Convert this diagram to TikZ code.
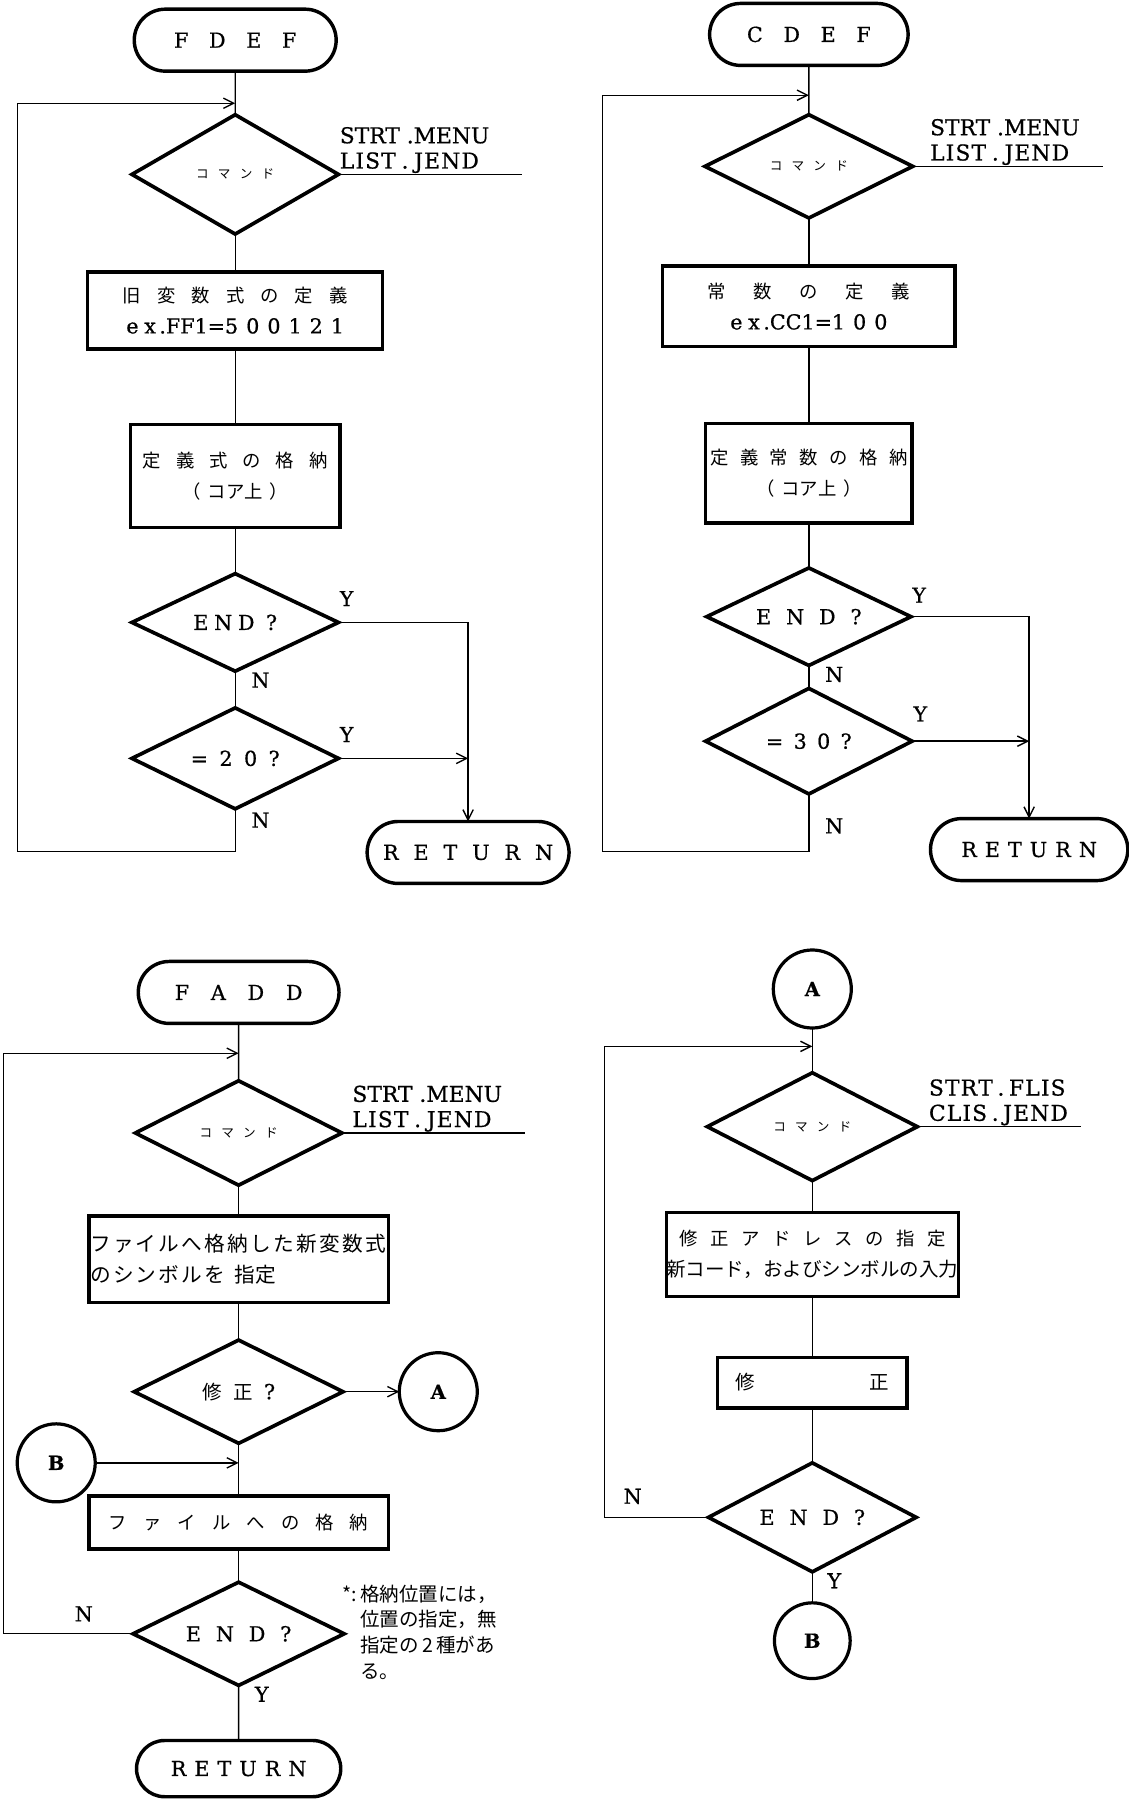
\documentclass[tikz,border=0pt]{standalone}
\usepackage{fontspec}
\setmainfont{DejaVu Serif}[FakeBold=0.7]
\newfontfamily\cjk{Noto Sans CJK JP}
\usetikzlibrary{arrows.meta,positioning,shapes.geometric,shapes.misc}

\makeatletter
\newcommand{\tracked}[2]{%
  \def\tr@gap{\kern#1\relax}\let\tr@sep\relax
  \@tfor\tr@c:=#2\do{\tr@sep\tr@c\let\tr@sep\tr@gap}}
\makeatother
\newcommand{\jp}[1][16]{\cjk\fontsize{#1}{27}\selectfont}

\begin{document}
\begin{tikzpicture}[x=1pt, y=1pt,
  every node/.style={font=\fontsize{18}{27}\selectfont},
  term/.style={draw, rounded rectangle, line width=3pt, minimum width=176pt, minimum height=54pt, inner sep=0pt, outer sep=0pt},
  dec/.style={draw, diamond, aspect=2, line width=3.2pt, minimum width=180pt, minimum height=90pt, inner sep=0pt, outer sep=0pt},
  box/.style={draw, rectangle, line width=3pt, align=center, inner sep=0pt, outer sep=0pt},
  con/.style={draw, circle, line width=2.8pt, minimum size=68pt, inner sep=0pt, outer sep=0pt, font=\bfseries\fontsize{17}{17}\selectfont},
  opt/.style={align=left, inner sep=1pt, font=\fontsize{19}{22}\selectfont},
  note/.style={align=left, inner sep=0pt, font=\cjk\fontsize{17}{22.5}\selectfont},
  lbl/.style={inner sep=1pt},
  line/.style={line width=1.2pt},
  arr/.style={line width=1.2pt, -{Straight Barb[length=9pt, width=9pt]}}]
\useasboundingbox (0,0) rectangle (984,-1568);

% FDEF
\node[term] (fdef) at (205,-35) {\tracked{18pt}{FDEF}};
\node[dec, below=38pt of fdef, minimum height=104pt] (cmd1) {\jp[11]\tracked{8pt}{コマンド}};
\node[box, below=33pt of cmd1, minimum width=257pt, minimum height=67pt] (def1) {{\jp\tracked{14pt}{旧変数式の定義}}\\\tracked{5pt}{ex}\,.FF1=\tracked{7pt}{500121}};
\node[box, below=66pt of def1, minimum width=183pt, minimum height=90pt] (store1) {{\jp\tracked{13pt}{定義式の格納}}\\{\jp（\kern6pt コア上\kern6pt）}};
\node[dec, below=40pt of store1, minimum height=85pt] (end1) {\tracked{5pt}{END}\kern10pt?};
\node[dec, below=32pt of end1, minimum height=88pt] (eq1) {\tracked{10pt}{=20?}};
\node[term] (ret1) at (408,-743) {\tracked{13pt}{RETURN}};
\node[opt, anchor=south west] (opt1) at (cmd1.east) {STRT\kern6pt.MENU\\\tracked{1pt}{LIST}\kern5pt.\kern5pt\tracked{1pt}{JEND}};
\coordinate[right=160pt of cmd1.east] (out1);
\coordinate[below=28pt of fdef.south] (in1);
\draw[line] (fdef) -- (cmd1);
\draw[line] (cmd1) -- (def1);
\draw[line] (def1) -- (store1);
\draw[line] (store1) -- (end1);
\draw[line] (end1) -- (eq1);
\draw[line] (cmd1.east) -- (out1);
\draw[arr] (end1.east) -| (ret1.north);
\draw[arr] (eq1.east) -- (eq1.east -| ret1.north);
\draw[arr] (eq1.south) -- ++(0,-37) -| ([xshift=-190pt]in1) -- (in1);
\node[lbl, above right=13pt and 0pt of end1.east] {Y};
\node[lbl, below right=0pt and 13pt of end1.south] {N};
\node[lbl, above right=13pt and 0pt of eq1.east] {Y};
\node[lbl, below right=2pt and 13pt of eq1.south] {N};

% CDEF
\node[term, minimum width=173pt] (cdef) at (705,-30) {\tracked{18pt}{CDEF}};
\node[dec, below=43pt of cdef, minimum width=181pt] (cmd2) {\jp[11]\tracked{8pt}{コマンド}};
\node[box, below=42pt of cmd2, minimum width=255pt, minimum height=70pt] (def2) {{\jp\tracked{24pt}{常数の定義}}\\\tracked{5pt}{ex}\,.CC1=\tracked{7pt}{100}};
\node[box, below=67pt of def2, minimum width=180pt, minimum height=87pt] (store2) {{\jp\tracked{10pt}{定義常数の格納}}\\{\jp（\kern6pt コア上\kern6pt）}};
\node[dec, below=39pt of store2, minimum width=178pt, minimum height=85pt] (end2) {\tracked{13pt}{END?}};
\node[dec, below=20pt of end2, minimum height=92pt] (eq2) {\tracked{9pt}{=30?}};
\node[term, minimum width=172pt] (ret2) at (897,-740.5) {\tracked{7pt}{RETURN}};
\node[opt, anchor=south west, xshift=14pt] (opt2) at (cmd2.east) {STRT\kern6pt.MENU\\\tracked{1pt}{LIST}\kern5pt.\kern5pt\tracked{1pt}{JEND}};
\coordinate[right=166pt of cmd2.east] (out2);
\coordinate[below=26pt of cdef.south] (in2);
\draw[line] (cdef) -- (cmd2);
\draw[line] (cmd2) -- (def2);
\draw[line] (def2) -- (store2);
\draw[line] (store2) -- (end2);
\draw[line] (end2) -- (eq2);
\draw[line] (cmd2.east) -- (out2);
\draw[arr] (end2.east) -| (ret2.north);
\draw[arr] (eq2.east) -- (eq2.east -| ret2.north);
\draw[arr] (eq2.south) -- ++(0,-50) -| ([xshift=-180pt]in2) -- (in2);
\node[lbl, above right=11pt and 0pt of end2.east] {Y};
\node[lbl, below right=0pt and 13pt of end2.south] {N};
\node[lbl, above right=16pt and 0pt of eq2.east] {Y};
\node[lbl, below right=20pt and 13pt of eq2.south] {N};

% FADD
\node[term, minimum width=175pt] (fadd) at (208,-865) {\tracked{19pt}{FADD}};
\node[dec, below=50pt of fadd, minimum height=91pt] (cmd3) {\jp[11]\tracked{8pt}{コマンド}};
\node[box, below=27pt of cmd3, minimum height=75pt, text width=259pt, align=left, inner xsep=1pt] (sym3) {{\jp[18]\tracked{2pt}{ファイルへ格納した新変数式}}\\{\jp[18]\tracked{2pt}{のシンボルを}\kern8pt 指定}};
\node[dec, below=33pt of sym3, minimum width=182pt] (fix3) {{\jp[17]\tracked{10pt}{修正}}\kern10pt?};
\node[con, right=49pt of fix3] (conA) {A};
\coordinate[below=17pt of fix3.south] (in3b);
\node[con, left=125pt of in3b] (conB) {B};
\node[box, below=46pt of fix3, minimum width=261pt, minimum height=46pt] (file3) {\jp\tracked{14pt}{ファイルへの格納}};
\node[dec, below=29pt of file3, minimum width=184pt] (end3) {\tracked{13pt}{END?}};
\node[term, below=48pt of end3, minimum width=178pt, minimum height=49pt] (ret3) {\tracked{7pt}{RETURN}};
\node[opt, anchor=south west, xshift=8pt] (opt3) at (cmd3.east) {STRT\kern6pt.MENU\\\tracked{1pt}{LIST}\kern5pt.\kern5pt\tracked{1pt}{JEND}};
\node[note, anchor=north west] (note3) at (298,-1381) {*:\kern3pt 格納位置には，\\\hphantom{*:\kern3pt}位置の指定，無\\\hphantom{*:\kern3pt}指定の\kern3pt 2\kern3pt 種があ\\\hphantom{*:\kern3pt}る。};
\coordinate[right=160pt of cmd3.east] (out3);
\coordinate[below=26pt of fadd.south] (in3);
\draw[line] (fadd) -- (cmd3);
\draw[line] (cmd3) -- (sym3);
\draw[line] (sym3) -- (fix3);
\draw[line] (fix3) -- (file3);
\draw[line] (file3) -- (end3);
\draw[line] (end3) -- (ret3);
\draw[line] (cmd3.east) -- (out3);
\draw[arr] (fix3.east) -- (conA);
\draw[arr] (conB) -- (in3b);
\draw[arr] (end3.west) -- node[lbl, above=9pt, pos=.38] {N} ++(-113,0) |- (in3);
\node[lbl, below right=0pt and 13pt of end3.south] {Y};

% A: correction
\node[con] (conA2) at (708,-862) {A};
\node[dec, below=39pt of conA2, minimum width=183pt, minimum height=94pt] (cmd4) {\jp[11]\tracked{8pt}{コマンド}};
\node[box, below=28pt of cmd4, minimum width=253pt, minimum height=73pt] (addr4) {{\jp\tracked{11pt}{修正アドレスの指定}}\\{\jp[17]新コード，およびシンボルの入力}};
\node[box, below=53pt of addr4, minimum width=165pt, minimum height=44pt] (mod4) {\jp[17]修\kern100pt 正};
\node[dec, below=48pt of mod4, minimum width=181pt, minimum height=95pt] (end4) {\tracked{13pt}{END?}};
\node[con, below=27pt of end4, minimum size=66pt] (conB2) {B};
\node[opt, anchor=south west, xshift=9pt] (opt4) at (cmd4.east) {\tracked{1pt}{STRT}\kern4pt.\kern4pt\tracked{1pt}{FLIS}\\\tracked{1pt}{CLIS}\kern4pt.\kern4pt\tracked{1pt}{JEND}};
\coordinate[right=143pt of cmd4.east] (out4);
\coordinate[below=16pt of conA2.south] (in4);
\draw[line] (conA2) -- (cmd4);
\draw[line] (cmd4) -- (addr4);
\draw[line] (addr4) -- (mod4);
\draw[line] (mod4) -- (end4);
\draw[line] (end4) -- (conB2);
\draw[line] (cmd4.east) -- (out4);
\draw[arr] (end4.west) -- node[lbl, above=10pt, pos=.73] {N} ++(-90.5,0) |- (in4);
\node[lbl, below right=0pt and 12pt of end4.south] {Y};
\end{tikzpicture}
\end{document}
